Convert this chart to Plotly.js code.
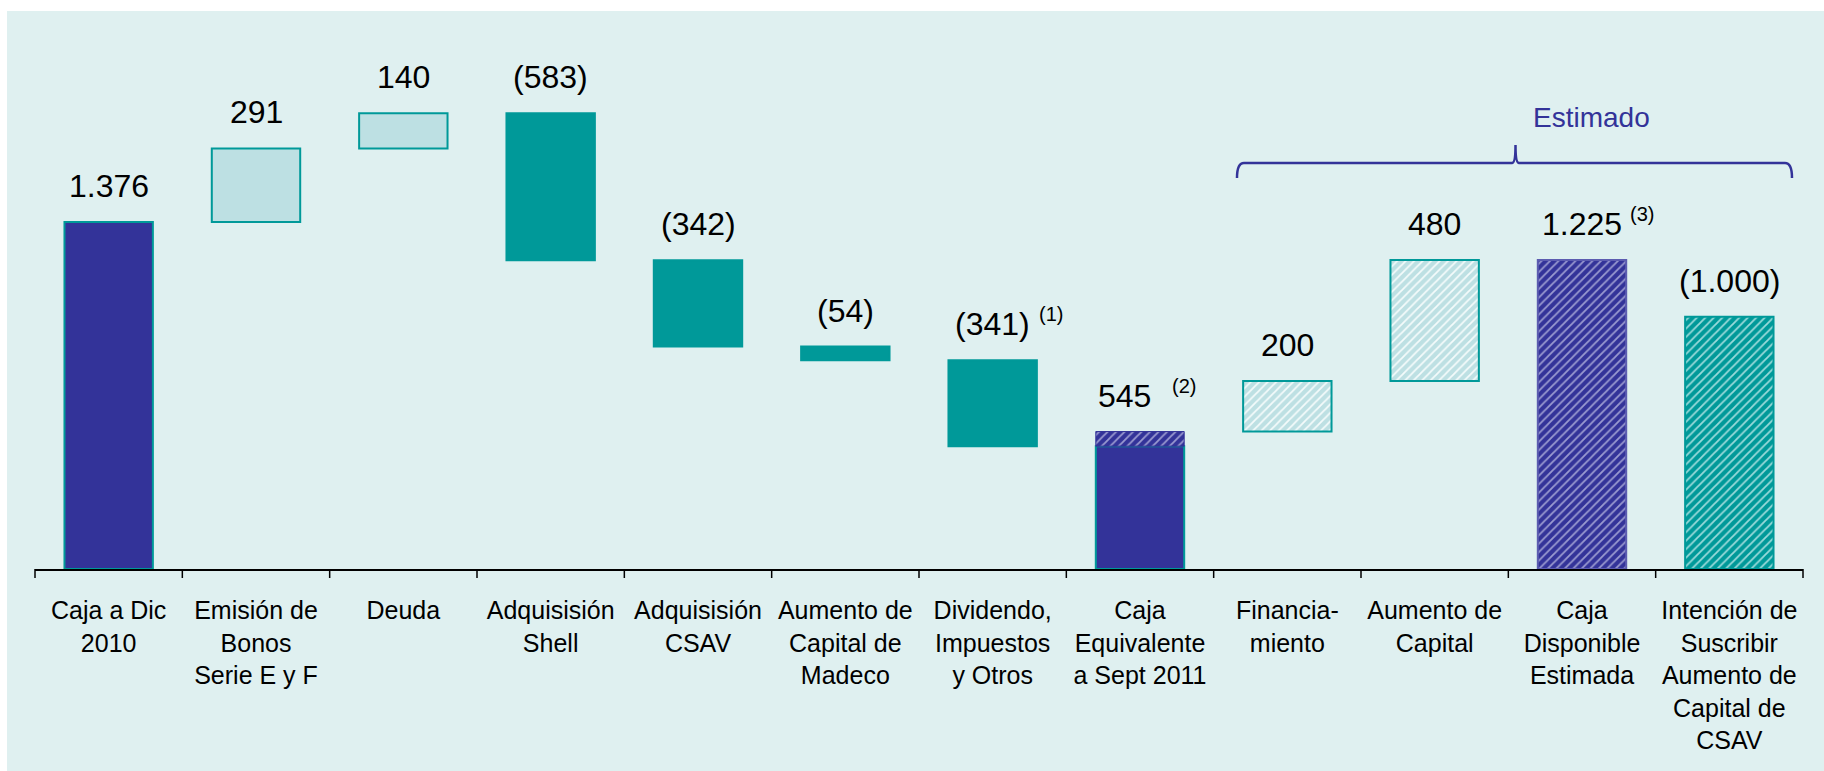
<!DOCTYPE html>
<html>
<head>
<meta charset="utf-8">
<script src="https://cdn.plot.ly/plotly-3.0.1.min.js"></script>
<style>html,body{margin:0;padding:0;background:#fff;}#chart{width:1824px;height:771px;}</style>
</head>
<body>
<div id="chart"></div>
<script>
// ---- data ----
const categories = [
  "Caja a Dic<br>2010",
  "Emisión de<br>Bonos<br>Serie E y F",
  "Deuda",
  "Adquisisión<br>Shell",
  "Adquisisión<br>CSAV",
  "Aumento de<br>Capital de<br>Madeco",
  "Dividendo,<br>Impuestos<br>y Otros",
  "Caja<br>Equivalente<br>a Sept 2011",
  "Financia-<br>miento",
  "Aumento de<br>Capital",
  "Caja<br>Disponible<br>Estimada",
  "Intención de<br>Suscribir<br>Aumento de<br>Capital de<br>CSAV"
];
const values = [1376, 291, 140, -583, -342, -54, -341, 545, 200, 480, 1225, -1000];
const measures = ["total","relative","relative","relative","relative","relative","relative","total","relative","relative","total","total"];
const valueLabels = ["1.376","291","140","(583)","(342)","(54)","(341)","545","200","480","1.225","(1.000)"];
const footnotes = ["","","","","","","(1)","(2)","","","(3)",""];
const bracketLabel = "Estimado";

// ---- styles ----
const DARK = "#333399", TEAL = "#009999", LIGHT = "#BDE0E3", PANEL = "#DFF0F0";
const fillColors = [DARK, LIGHT, LIGHT, TEAL, TEAL, TEAL, TEAL, DARK, LIGHT, LIGHT, DARK, TEAL];
const lineColors = [TEAL, TEAL, TEAL, TEAL, TEAL, TEAL, TEAL, TEAL, TEAL, TEAL, "#5C5CB0", TEAL];
const hatched = [false,false,false,false,false,false,false,false,true,true,true,true];
const stripeFor = {};
stripeFor[DARK] = "#9A9AD0";
stripeFor[TEAL] = "#9ADADA";
stripeFor[LIGHT] = "#F4FBFB";
const labelXShift = {7: -16};
const noteXShift = {6: 44, 7: 30, 10: 46};

// ---- waterfall computation ----
const idx = categories.map((c, i) => i);
const bases = [], heights = [], tops = [];
const gapX = [], gapBase = [], gapH = [];
let running = 0;
values.forEach((v, i) => {
  if (measures[i] === "total") {
    const total = Math.abs(v);
    if (running > 0 && running < total) {
      bases.push(0); heights.push(running);
      gapX.push(i); gapBase.push(running); gapH.push(total - running);
    } else {
      bases.push(0); heights.push(total);
    }
    tops.push(total);
    running = total;
  } else {
    bases.push(running); heights.push(v);
    tops.push(Math.max(running, running + v));
    running += v;
  }
});

// ---- traces ----
const traces = [];
const solidIdx = idx.filter(i => !hatched[i]);
traces.push({
  type: "bar",
  x: solidIdx, y: solidIdx.map(i => heights[i]), base: solidIdx.map(i => bases[i]),
  width: 0.6,
  marker: {
    color: solidIdx.map(i => fillColors[i]),
    line: {color: solidIdx.map(i => lineColors[i]), width: 2}
  },
  hoverinfo: "skip", showlegend: false
});
// one hatched trace per fill colour so each gets its own single stripe colour
[LIGHT, DARK, TEAL].forEach(col => {
  const g = idx.filter(i => hatched[i] && fillColors[i] === col);
  if (!g.length) return;
  traces.push({
    type: "bar",
    x: g, y: g.map(i => heights[i]), base: g.map(i => bases[i]),
    width: 0.6,
    marker: {
      color: col,
      line: {color: g.map(i => lineColors[i]), width: 2},
      pattern: {shape: "/", fillmode: "overlay", fgcolor: stripeFor[col], fgopacity: 1, size: 6, solidity: 0.3}
    },
    hoverinfo: "skip", showlegend: false
  });
});
traces.push({
  type: "bar",
  x: gapX, y: gapH, base: gapBase,
  width: 0.6,
  marker: {
    color: DARK,
    line: {color: DARK, width: 1},
    pattern: {shape: "/", fillmode: "overlay", fgcolor: stripeFor[DARK], fgopacity: 1, size: 6, solidity: 0.3}
  },
  hoverinfo: "skip", showlegend: false
});

// ---- geometry helpers (plot area: x 35..1803, y 11..569) ----
const L = 35, R = 1803, T = 11, B = 569;
const px = p => (p - L) / (R - L);
const py = p => (B - p) / (B - T);

const annotations = [];
valueLabels.forEach((t, i) => {
  annotations.push({
    x: i, y: tops[i], xref: "x", yref: "y", text: t, showarrow: false,
    xanchor: "center", yanchor: "middle", yshift: 36, xshift: labelXShift[i] || 0,
    font: {family: "Arial, 'Liberation Sans', sans-serif", size: 32, color: "#000"}
  });
  if (footnotes[i]) {
    annotations.push({
      x: i, y: tops[i], xref: "x", yref: "y", text: footnotes[i], showarrow: false,
      xanchor: "left", yanchor: "middle", yshift: 46, xshift: noteXShift[i] || 40,
      font: {family: "Arial, 'Liberation Sans', sans-serif", size: 20, color: "#000"}
    });
  }
});
annotations.push({
  x: px(1591), y: py(117), xref: "paper", yref: "paper", text: bracketLabel, showarrow: false,
  xanchor: "center", yanchor: "middle",
  font: {family: "Arial, 'Liberation Sans', sans-serif", size: 28, color: DARK}
});

const P = (x, y) => px(x).toFixed(5) + "," + py(y).toFixed(5);
const bracePath =
  "M" + P(1237, 178) + " Q" + P(1237, 163) + " " + P(1244, 163) +
  " L" + P(1512, 163) + " Q" + P(1515.5, 163) + " " + P(1515.5, 145) +
  " Q" + P(1515.5, 163) + " " + P(1519, 163) +
  " L" + P(1785, 163) + " Q" + P(1792, 163) + " " + P(1792, 178);

const layout = {
  width: 1824, height: 771,
  margin: {l: L, r: 1824 - R, t: T, b: 771 - B, pad: 0},
  paper_bgcolor: "#FFFFFF",
  plot_bgcolor: "rgba(0,0,0,0)",
  barmode: "overlay",
  showlegend: false,
  xaxis: {
    type: "linear",
    range: [-0.5, 11.5],
    tickvals: idx, ticktext: categories,
    showline: true, linecolor: "#000", linewidth: 2,
    ticks: "", showgrid: false, zeroline: false,
    tickfont: {family: "Arial, 'Liberation Sans', sans-serif", size: 25, color: "#000"},
    ticklabelstandoff: 18,
    fixedrange: true
  },
  yaxis: {range: [0, 2212], visible: false, fixedrange: true},
  shapes: [
    {type: "rect", xref: "paper", yref: "paper", x0: px(7), x1: px(1830), y0: py(780), y1: py(11),
     fillcolor: PANEL, line: {width: 0}, layer: "below"},
    {type: "path", xref: "paper", yref: "paper", path: bracePath,
     line: {color: DARK, width: 2.5}, fillcolor: "rgba(0,0,0,0)"}
  ].concat(Array.from({length: 13}, (_, k) => ({
    type: "line", xref: "paper", yref: "paper",
    x0: k / 12, x1: k / 12, y0: 0, y1: py(578),
    line: {color: "#000", width: 1.5}
  }))),
  annotations: annotations
};

Plotly.newPlot("chart", traces, layout, {displayModeBar: false, staticPlot: true});
</script>
</body>
</html>
